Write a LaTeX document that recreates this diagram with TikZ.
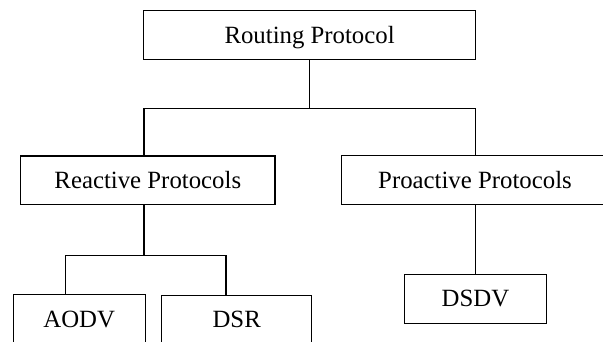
\documentclass[tikz,border=0pt]{standalone}
\usepackage{fontspec}
\setmainfont{Liberation Serif}
\begin{document}
\begin{tikzpicture}[x=1pt,y=-1pt,
  box/.style={draw, line width=1.1pt, inner sep=0pt, minimum height=48.5pt,
    text height=16.4pt, text depth=0pt,
    font=\fontsize{24.8}{30}\selectfont},
  conn/.style={line width=1.1pt}]
\useasboundingbox (0,0) rectangle (603,341);
\clip (0,0) rectangle (603,341);
\node[box, minimum width=331.7pt] (root) at (309.6,35) {Routing Protocol};
\node[box, minimum width=254.3pt] (reactive) at (147.8,180.2) {Reactive Protocols};
\node[box, minimum width=266.6pt] (proactive) at (475,180) {Proactive Protocols};
\node[box, minimum width=131.7pt] (aodv) at (79.2,319) {AODV};
\node[box, minimum width=150pt] (dsr) at (236.7,319.3) {DSR};
\node[box, minimum width=141.7pt, minimum height=49.3pt] (dsdv) at (475.5,298.7) {DSDV};
\coordinate (l1) at (144,108.3);
\coordinate (r1) at (475.5,108.3);
\coordinate (m2) at (144,255.7);
\coordinate (l2) at (65.3,255.7);
\coordinate (r2) at (226,255.7);
\draw[conn] (root.south) -- (root.south |- l1);
\draw[conn] (reactive.north -| l1) |- (r1) -- (proactive.north -| r1);
\draw[conn] (reactive.south -| m2) -- (m2);
\draw[conn] (aodv.north -| l2) |- (r2) -- (dsr.north -| r2);
\draw[conn] (proactive.south -| r1) -- (dsdv.north);
\end{tikzpicture}
\end{document}
